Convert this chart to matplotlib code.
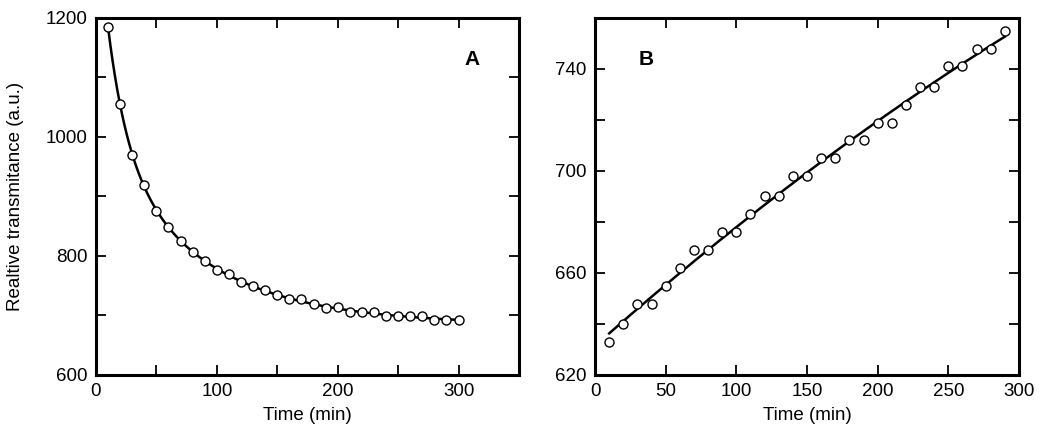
import matplotlib
matplotlib.use("Agg")
import matplotlib.pyplot as plt
import numpy as np
from matplotlib.ticker import MultipleLocator

plt.rcParams['font.family'] = ['Liberation Sans', 'DejaVu Sans']

# panel A: decay of transmittance
time_a = [10, 20, 30, 40, 50, 60, 70, 80, 90, 100, 110, 120, 130, 140, 150,
          160, 170, 180, 190, 200, 210, 220, 230, 240, 250, 260, 270, 280, 290, 300]
trans_a = [1184, 1055, 969, 919, 876, 848, 826, 806, 792, 776, 769, 756, 749, 743, 734,
           727, 728, 720, 713, 714, 706, 706, 706, 699, 699, 699, 699, 692, 692, 692]

# panel B: rise of transmittance
time_b = [10, 20, 30, 40, 50, 60, 70, 80, 90, 100, 110, 120, 130, 140, 150,
          160, 170, 180, 190, 200, 210, 220, 230, 240, 250, 260, 270, 280, 290]
trans_b = [633, 640, 648, 648, 655, 662, 669, 669, 676, 676, 683, 690, 690, 698, 698,
           705, 705, 712, 712, 719, 719, 726, 733, 733, 741, 741, 748, 748, 755]


def exp2_fit(t, y):
    # y = a + b*exp(-t/tau1) + c*exp(-t/tau2), scan taus, least squares for a, b, c
    t = np.asarray(t, float)
    y = np.asarray(y, float)
    best = None
    for tau1 in np.linspace(3, 60, 60):
        for tau2 in np.linspace(40, 400, 73):
            M = np.column_stack([np.ones_like(t), np.exp(-t / tau1), np.exp(-t / tau2)])
            coef, *_ = np.linalg.lstsq(M, y, rcond=None)
            err = np.sum((M @ coef - y) ** 2)
            if best is None or err < best[0]:
                best = (err, tau1, tau2, coef)
    _, tau1, tau2, coef = best
    tt = np.linspace(t.min(), t.max(), 300)
    return tt, coef[0] + coef[1] * np.exp(-tt / tau1) + coef[2] * np.exp(-tt / tau2)


def style_axes(ax):
    for s in ax.spines.values():
        s.set_linewidth(2.2)
    ax.tick_params(which='both', direction='in', top=True, right=True,
                   labelsize=13.5, width=1.3, length=7, pad=6)


fig = plt.figure(figsize=(10.5, 4.43), dpi=100)
ax1 = fig.add_axes([0.0914, 0.1535, 0.4029, 0.806])
ax2 = fig.add_axes([0.5667, 0.1535, 0.4038, 0.806])

tt, fit_a = exp2_fit(time_a, trans_a)
ax1.plot(tt, fit_a, color='black', lw=1.8, zorder=2)
ax1.plot(time_a, trans_a, 'o', ms=6.5, mfc='white', mec='black', mew=1.0, zorder=3)
ax1.set_xlim(0, 350)
ax1.set_ylim(600, 1200)
ax1.set_xticks([0, 50, 100, 150, 200, 250, 300])
ax1.set_xticklabels(['0', '', '100', '', '200', '', '300'])
ax1.set_yticks([600, 700, 800, 900, 1000, 1100, 1200])
ax1.set_yticklabels(['600', '', '800', '', '1000', '', '1200'])
ax1.set_xlabel('Time (min)', fontsize=13.5, labelpad=5)
ax1.set_ylabel('Realtive transmitance (a.u.)', fontsize=13.5, labelpad=16)
ax1.text(0.89, 0.885, 'A', transform=ax1.transAxes, fontsize=15, fontweight='bold',
         ha='center', va='center')
style_axes(ax1)

cb = np.polyfit(time_b, trans_b, 2)
tb = np.linspace(min(time_b), max(time_b), 200)
ax2.plot(tb, np.polyval(cb, tb), color='black', lw=1.8, zorder=2)
ax2.plot(time_b, trans_b, 'o', ms=6.5, mfc='white', mec='black', mew=1.0, zorder=3)
ax2.set_xlim(0, 300)
ax2.set_ylim(620, 760)
ax2.xaxis.set_major_locator(MultipleLocator(50))
ax2.set_yticks([620, 640, 660, 680, 700, 720, 740, 760])
ax2.set_yticklabels(['620', '', '660', '', '700', '', '740', ''])
ax2.set_xlabel('Time (min)', fontsize=13.5, labelpad=5)
ax2.text(0.12, 0.885, 'B', transform=ax2.transAxes, fontsize=15, fontweight='bold',
         ha='center', va='center')
style_axes(ax2)

fig.savefig('out.png', dpi=100)
